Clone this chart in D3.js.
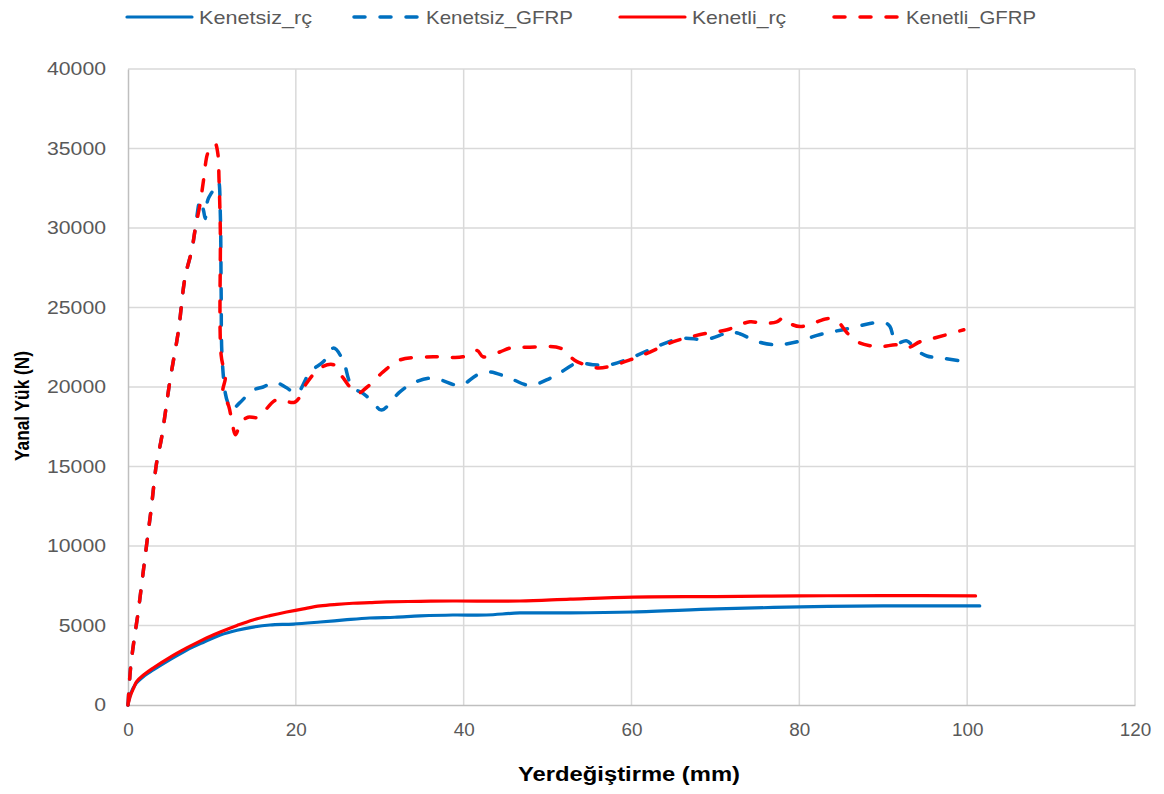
<!DOCTYPE html>
<html><head><meta charset="utf-8">
<script src="https://cdn.jsdelivr.net/npm/d3@7"></script>
<style>body{margin:0;background:#fff;} svg{display:block;}</style>
</head><body>
<svg id="chart" width="1164" height="794"></svg>
<script>
// ---- data ----
const seriesNames = ["Kenetsiz_rç", "Kenetsiz_GFRP", "Kenetli_rç", "Kenetli_GFRP"];
const xTicks = [0, 20, 40, 60, 80, 100, 120];
const yTicks = [0, 5000, 10000, 15000, 20000, 25000, 30000, 35000, 40000];

const kenetsizRcX = [0, 0.3, 1.0, 2.0, 3.0, 5.0, 7.0, 9.0, 11.0, 13.0, 14.9, 16.9, 19.7, 22.9, 25.8, 28.8, 31.8, 34.8, 38.7, 42.7, 46.7, 52.7, 60.2, 70.2, 80.1, 90.0, 101.5];
const kenetsizRcY = [0, 700, 1380, 1850, 2200, 2850, 3460, 3950, 4400, 4700, 4900, 5030, 5090, 5220, 5350, 5470, 5520, 5600, 5660, 5660, 5790, 5790, 5850, 6040, 6170, 6230, 6230];

const kenetliRcX = [0, 0.3, 0.7, 1.0, 2.0, 3.0, 5.0, 7.0, 9.0, 11.0, 13.0, 14.9, 16.9, 18.9, 20.9, 22.9, 24.9, 26.8, 28.8, 30.8, 34.8, 38.7, 46.7, 52.7, 60.2, 70, 80, 90, 101.0];
const kenetliRcY = [0, 600, 1100, 1450, 1950, 2330, 3000, 3590, 4130, 4590, 5000, 5350, 5620, 5850, 6050, 6230, 6330, 6400, 6440, 6480, 6520, 6540, 6540, 6660, 6790, 6820, 6860, 6880, 6860];

const kenetsizGfrpX = [0, 0.3, 0.7, 1.2, 1.7, 2.2, 2.8, 3.4, 4.0, 5.0, 6.0, 6.8, 7.6, 8.0, 8.6, 9.0, 9.2, 9.5, 10.0, 10.6, 10.8, 11.0, 11.1, 11.2, 11.6, 11.9, 12.3, 13.3, 14.9, 16.1, 17.5, 18.9, 20.1, 21.7, 23.3, 24.5, 25.6, 26.7, 28.0, 29.2, 30.2, 32.4, 34.0, 35.8, 37.2, 39.6, 41.6, 43.1, 45.5, 47.9, 50.3, 51.5, 53.5, 55.4, 57.4, 59.8, 62.6, 65.8, 69.0, 71.8, 72.9, 75.0, 77.3, 78.9, 80.5, 82.1, 83.7, 85.2, 86.9, 88.4, 90.2, 90.8, 91.2, 91.6, 92.8, 94.0, 95.2, 97.2, 99.8];
const kenetsizGfrpY = [0, 2300, 4000, 5800, 7900, 10000, 12500, 15200, 16800, 20400, 23500, 26900, 28600, 29900, 31750, 31100, 30600, 31750, 32250, 32700, 32900, 30900, 26000, 22000, 19600, 19000, 18550, 19000, 19800, 20000, 20300, 19950, 19600, 20950, 21600, 22450, 21700, 20000, 19600, 19050, 18550, 19700, 20250, 20550, 20450, 20100, 20750, 20950, 20550, 20100, 20550, 20900, 21500, 21400, 21400, 21800, 22450, 23050, 23000, 23450, 23350, 22850, 22650, 22750, 22950, 23250, 23450, 23600, 23800, 24000, 24050, 23800, 23150, 22750, 22900, 22300, 21950, 21800, 21600];

const kenetliGfrpX = [0, 0.3, 0.7, 1.2, 1.7, 2.2, 2.8, 3.4, 4.0, 5.0, 6.0, 6.8, 7.6, 8.0, 8.6, 9.0, 9.5, 10.0, 10.4, 10.7, 10.85, 11.0, 11.1, 11.6, 11.3, 12.0, 12.5, 12.8, 13.5, 14.3, 15.5, 17.7, 19.9, 21.3, 22.9, 24.5, 25.6, 27.3, 28.5, 30.4, 32.4, 36.4, 39.9, 41.6, 42.3, 44.3, 45.5, 47.5, 51.5, 52.7, 53.5, 55.9, 57.4, 59.8, 62.2, 65.0, 68.2, 71.4, 74.1, 75.7, 77.3, 78.1, 78.5, 80.1, 81.6, 83.3, 84.5, 85.7, 86.9, 88.4, 89.9, 91.6, 92.8, 94.4, 95.9, 97.6, 99.6];
const kenetliGfrpY = [0, 2300, 4000, 5800, 7900, 10000, 12500, 15200, 16800, 20400, 23500, 26900, 28600, 29900, 31550, 33000, 34700, 35100, 35300, 34700, 33000, 29900, 22000, 20600, 19700, 18800, 17500, 17000, 17800, 18100, 18100, 19200, 19050, 20250, 21200, 21400, 20600, 19600, 20000, 20950, 21700, 21900, 21900, 22300, 21900, 22200, 22450, 22500, 22450, 21900, 21600, 21200, 21300, 21700, 22200, 22850, 23300, 23600, 24100, 24000, 24100, 24350, 24100, 23800, 24000, 24300, 24150, 23400, 22850, 22600, 22550, 22650, 22450, 22850, 23050, 23300, 23600];

const seriesColors = ["#0070C0", "#0070C0", "#FF0000", "#FF0000"];
const seriesDashed = [false, true, false, true];

// ---- drawing ----
const svg = d3.select("#chart");
const m = {left: 128, right: 1135, top: 69, bottom: 705};
const x = d3.scaleLinear().domain([0, 120]).range([m.left, m.right]);
const y = d3.scaleLinear().domain([0, 40000]).range([m.bottom, m.top]);

// gridlines
svg.append("g").selectAll("line.h").data(yTicks.filter(d => d > 0)).join("line")
  .attr("x1", m.left).attr("x2", m.right)
  .attr("y1", d => y(d)).attr("y2", d => y(d))
  .attr("stroke", "#d9d9d9").attr("stroke-width", 1.5);
svg.append("g").selectAll("line.v").data(xTicks.filter(d => d > 0)).join("line")
  .attr("x1", d => x(d)).attr("x2", d => x(d))
  .attr("y1", m.top).attr("y2", m.bottom)
  .attr("stroke", "#d9d9d9").attr("stroke-width", 1.5);

// axes
const xAxis = d3.axisBottom(x).tickValues(xTicks).tickSize(0).tickPadding(18).tickFormat(d3.format("d"));
const yAxis = d3.axisLeft(y).tickValues(yTicks).tickSize(0).tickPadding(22).tickFormat(d3.format("d"));
const gx = svg.append("g").attr("transform", `translate(0,${m.bottom})`).call(xAxis);
const gy = svg.append("g").attr("transform", `translate(${m.left},0)`).call(yAxis);
[gx, gy].forEach(g => {
  g.select(".domain").attr("stroke", "#bfbfbf").attr("stroke-width", 1.5);
  g.selectAll("text").attr("font-family", "Liberation Sans, Arial, sans-serif")
    .attr("font-size", 18).attr("fill", "#595959");
});
gx.selectAll("text").each(function(d){ d3.select(this).attr("textLength", String(d).length * 10.5).attr("lengthAdjust", "spacingAndGlyphs"); });
gy.selectAll("text").each(function(d){ d3.select(this).attr("textLength", String(d).length * 11.8).attr("lengthAdjust", "spacingAndGlyphs"); });

// lines
const data = [
  d3.zip(kenetsizRcX, kenetsizRcY),
  d3.zip(kenetsizGfrpX, kenetsizGfrpY),
  d3.zip(kenetliRcX, kenetliRcY),
  d3.zip(kenetliGfrpX, kenetliGfrpY)
];
const line = d3.line().x(d => x(d[0])).y(d => y(d[1])).curve(d3.curveCatmullRom.alpha(0.5));
const drawOrder = [0, 2, 1, 3];
drawOrder.forEach(i => {
  svg.append("path").datum(data[i]).attr("d", line)
    .attr("fill", "none").attr("stroke", seriesColors[i])
    .attr("stroke-width", seriesDashed[i] ? 3.5 : 3.2)
    .attr("stroke-linecap", "round").attr("stroke-linejoin", "round")
    .attr("stroke-dasharray", seriesDashed[i] ? "11,15" : null);
});

// axis titles
svg.append("text").attr("x", 629).attr("y", 781).attr("text-anchor", "middle")
  .attr("font-family", "Liberation Sans, Arial, sans-serif").attr("font-weight", "bold")
  .attr("font-size", 20).attr("fill", "#000").attr("textLength", 222).attr("lengthAdjust", "spacingAndGlyphs")
  .text("Yerdeğiştirme (mm)");
svg.append("text").attr("transform", "translate(29,406) rotate(-90)").attr("text-anchor", "middle")
  .attr("font-family", "Liberation Sans, Arial, sans-serif").attr("font-weight", "bold")
  .attr("font-size", 21).attr("fill", "#000").attr("textLength", 110).attr("lengthAdjust", "spacingAndGlyphs")
  .text("Yanal Yük (N)");

// legend
const legX = [125, 352, 618, 832];
const legW = [113, 147, 94, 130];
const leg = svg.append("g");
seriesNames.forEach((name, i) => {
  leg.append("line").attr("x1", legX[i] + 2).attr("x2", legX[i] + 67)
    .attr("y1", 17).attr("y2", 17)
    .attr("stroke", seriesColors[i]).attr("stroke-width", seriesDashed[i] ? 3.5 : 3.2)
    .attr("stroke-linecap", "round")
    .attr("stroke-dasharray", seriesDashed[i] ? "11,15" : null);
  leg.append("text").attr("x", legX[i] + 74).attr("y", 24)
    .attr("font-family", "Liberation Sans, Arial, sans-serif").attr("font-size", 19)
    .attr("fill", "#595959").attr("textLength", legW[i]).attr("lengthAdjust", "spacingAndGlyphs")
    .text(name);
});
</script>
</body></html>
